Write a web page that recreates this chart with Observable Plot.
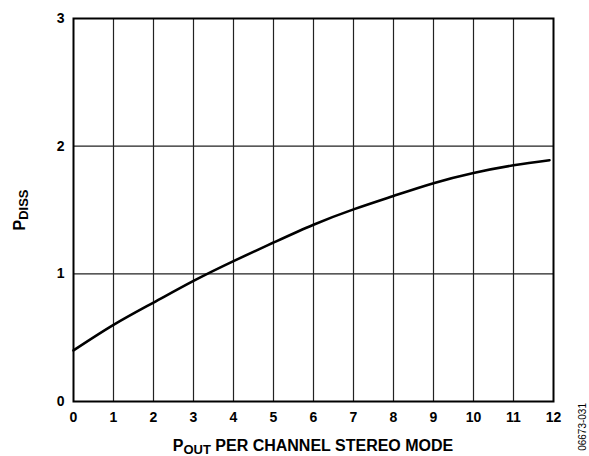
<!DOCTYPE html>
<html>
<head>
<meta charset="utf-8">
<script src="https://cdn.jsdelivr.net/npm/d3@7"></script>
<script src="https://cdn.jsdelivr.net/npm/@observablehq/plot@0.6"></script>
<style>
  html, body { margin: 0; padding: 0; background: #fff; }
</style>
</head>
<body>
<div id="chart"></div>
<script>
const pout = [0, 1, 2, 3, 4, 5, 6, 7, 8, 9, 10, 11, 11.9];
const pdiss = [0.40, 0.60, 0.775, 0.945, 1.10, 1.245, 1.385, 1.505, 1.61, 1.71, 1.79, 1.85, 1.89];
const xTicks = [0, 1, 2, 3, 4, 5, 6, 7, 8, 9, 10, 11, 12];
const yTicks = [0, 1, 2, 3];
const xTitleMain = "P";
const xTitleSub = "OUT";
const xTitleRest = " PER CHANNEL STEREO MODE";
const yTitleMain = "P";
const yTitleSub = "DISS";
const figId = "06673-031";

const data = pout.map((x, i) => ({x, y: pdiss[i]}));

const svg = Plot.plot({
  width: 589,
  height: 456,
  marginLeft: 73,
  marginRight: 36,
  marginTop: 18,
  marginBottom: 55,
  style: {fontFamily: "'Liberation Sans', Arial, sans-serif", fontSize: "14px", fontWeight: "bold", background: "#fff"},
  x: {domain: [0, 12]},
  y: {domain: [0, 3]},
  marks: [
    Plot.ruleX(xTicks.slice(1, -1), {stroke: "#222", strokeWidth: 1.2}),
    Plot.ruleY(yTicks.slice(1, -1), {stroke: "#222", strokeWidth: 1.2}),
    Plot.line(data, {x: "x", y: "y", curve: "natural", stroke: "#000", strokeWidth: 2.6}),
    Plot.frame({stroke: "#000", strokeWidth: 2}),
    Plot.axisX(xTicks, {tickSize: 0, tickPadding: 11, label: null, tickFormat: "d", fontSize: 14, fontWeight: "bold", fill: "#000"}),
    Plot.axisY(yTicks, {tickSize: 0, tickPadding: 9, label: null, tickFormat: "d", fontSize: 14, fontWeight: "bold", fill: "#000"})
  ]
});

const s = d3.select(svg);
const xt = s.append("text")
  .attr("x", 313).attr("y", 451)
  .attr("text-anchor", "middle")
  .attr("font-size", 16).attr("font-weight", "bold").attr("fill", "#000");
xt.append("tspan").text(xTitleMain);
xt.append("tspan").attr("dy", 3).attr("font-size", 13).text(xTitleSub);
xt.append("tspan").attr("dy", -3).text(xTitleRest);

const yt = s.append("text")
  .attr("transform", "translate(25,210) rotate(-90)")
  .attr("text-anchor", "middle")
  .attr("font-size", 16).attr("font-weight", "bold").attr("fill", "#000");
yt.append("tspan").text(yTitleMain);
yt.append("tspan").attr("dy", 3).attr("font-size", 13).text(yTitleSub);

s.append("text")
  .attr("transform", "translate(586,403) rotate(-90)")
  .attr("text-anchor", "end")
  .attr("font-size", 10).attr("font-weight", "normal").attr("fill", "#000")
  .text(figId);

document.getElementById("chart").appendChild(svg);
</script>
</body>
</html>
